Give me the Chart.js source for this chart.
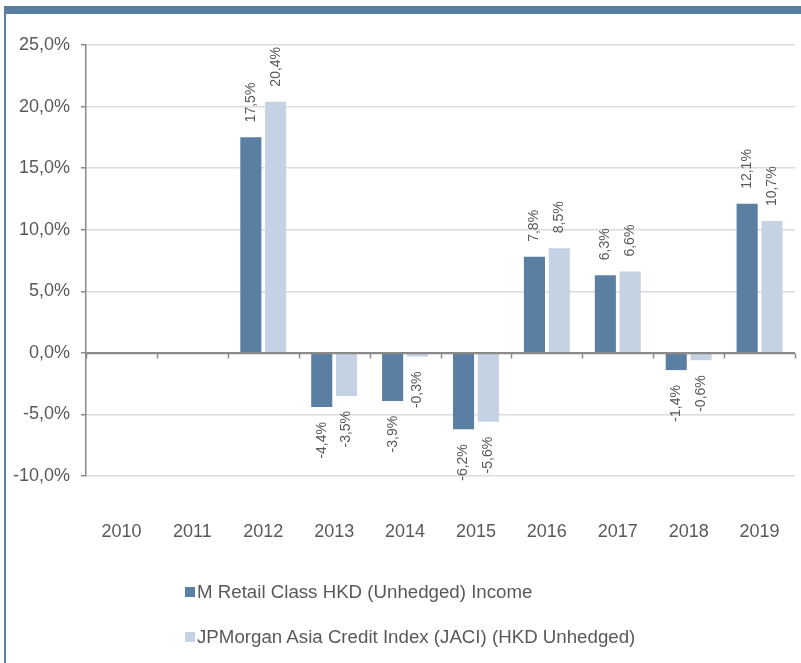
<!DOCTYPE html>
<html><head><meta charset="utf-8">
<script src="https://cdn.jsdelivr.net/npm/chart.js@4/dist/chart.umd.min.js"></script>
<style>
html,body{margin:0;padding:0;background:#fff;}
#wrap{position:relative;width:801px;height:663px;overflow:hidden;background:#fff;}
#topbar{position:absolute;left:4px;top:6px;width:797px;height:8px;background:#5b7fa3;}
#leftbar{position:absolute;left:4px;top:6px;width:2px;height:657px;background:#5b7fa3;}
#c{position:absolute;left:0;top:0;}
#legend{position:absolute;left:185px;top:578px;font-family:"Liberation Sans",Arial,sans-serif;font-size:18.7px;color:#595959;}
.item{display:flex;align-items:center;height:28px;margin-bottom:17px;white-space:nowrap;}
.box{width:10px;height:10px;margin-right:2px;flex:none;}
</style></head>
<body>
<div id="wrap">
<canvas id="c" width="801" height="663"></canvas>
<div id="topbar"></div>
<div id="leftbar"></div>
<div id="legend"></div>
</div>
<script>
const categories = ['2010','2011','2012','2013','2014','2015','2016','2017','2018','2019'];
const fundReturns = [null, null, 17.5, -4.4, -3.9, -6.2, 7.8, 6.3, -1.4, 12.1];
const indexReturns = [null, null, 20.4, -3.5, -0.3, -5.6, 8.5, 6.6, -0.6, 10.7];
const seriesNames = ['M Retail Class HKD (Unhedged) Income', 'JPMorgan Asia Credit Index (JACI) (HKD Unhedged)'];
const seriesColors = ['#5b7fa3', '#c4d2e4'];
const yMin = -10, yMax = 25, yStep = 5;

const FONT = '"Liberation Sans", Arial, sans-serif';
const TXT = '#595959';
const AXIS = '#8a8a8a';
const GRID = '#dcdcdc';
const fmt = v => v.toFixed(1).replace('.', ',') + '%';

const labelPlugin = {
  id: 'labels',
  afterDatasetsDraw(chart) {
    const ctx = chart.ctx;
    const xs = chart.scales.x, ys = chart.scales.y;
    const area = chart.chartArea;
    const y0 = Math.round(ys.getPixelForValue(0)) + 0.5;
    ctx.save();
    ctx.strokeStyle = AXIS; ctx.lineWidth = 1.5;
    ctx.beginPath(); ctx.moveTo(area.left, y0); ctx.lineTo(area.right, y0); ctx.stroke();
    const half = (xs.getPixelForValue(1) - xs.getPixelForValue(0)) / 2;
    for (let i = 0; i <= categories.length; i++) {
      const x = Math.round(xs.getPixelForValue(i) - half) + 0.5;
      ctx.beginPath(); ctx.moveTo(x, y0); ctx.lineTo(x, y0 + 5); ctx.stroke();
    }
    ctx.restore();
    ctx.save();
    ctx.font = '14px ' + FONT;
    ctx.fillStyle = TXT;
    ctx.textBaseline = 'middle';
    const gap = 15;
    chart.data.datasets.forEach((ds, di) => {
      const meta = chart.getDatasetMeta(di);
      meta.data.forEach((bar, i) => {
        const v = ds.data[i];
        if (v === null || v === undefined) return;
        const p = bar.getProps(['x', 'y'], true);
        ctx.save();
        ctx.translate(p.x, p.y);
        ctx.rotate(-Math.PI / 2);
        if (v >= 0) { ctx.textAlign = 'left'; ctx.fillText(fmt(v), gap, 0); }
        else { ctx.textAlign = 'right'; ctx.fillText(fmt(v), -gap, 0); }
        ctx.restore();
      });
    });
    ctx.restore();
  }
};

const chart = new Chart(document.getElementById('c'), {
  type: 'bar',
  data: {
    labels: categories,
    datasets: [
      { label: seriesNames[0], data: fundReturns, backgroundColor: seriesColors[0], borderWidth: 0, categoryPercentage: 0.7, barPercentage: 0.85 },
      { label: seriesNames[1], data: indexReturns, backgroundColor: seriesColors[1], borderWidth: 0, categoryPercentage: 0.7, barPercentage: 0.85 }
    ]
  },
  options: {
    responsive: false,
    animation: false,
    layout: { padding: { left: 0, right: 6, top: 45, bottom: 101 } },
    plugins: { legend: { display: false }, tooltip: { enabled: false } },
    scales: {
      x: {
        grid: { display: true, drawOnChartArea: false, drawTicks: true, tickLength: 45, color: 'rgba(0,0,0,0)', tickColor: 'rgba(0,0,0,0)' },
        border: { display: false },
        ticks: { font: { size: 18, family: FONT }, color: TXT, padding: 0, maxRotation: 0 },
        afterFit: s => { s.height = 86; }
      },
      y: {
        min: yMin, max: yMax,
        ticks: { stepSize: yStep, callback: v => fmt(v), font: { size: 18, family: FONT }, color: TXT, padding: 11 },
        grid: { color: c => (c.tick && c.tick.value === 0) ? AXIS : GRID, lineWidth: 1.5, tickColor: AXIS, tickLength: 5 },
        border: { color: AXIS, width: 1.5 },
        afterFit: s => { s.width = 86; }
      }
    }
  },
  plugins: [labelPlugin]
});

const legend = document.getElementById('legend');
chart.data.datasets.forEach(ds => {
  const item = document.createElement('div'); item.className = 'item';
  const box = document.createElement('span'); box.className = 'box'; box.style.background = ds.backgroundColor;
  const t = document.createElement('span'); t.textContent = ds.label;
  item.appendChild(box); item.appendChild(t); legend.appendChild(item);
});
</script>
</body></html>
